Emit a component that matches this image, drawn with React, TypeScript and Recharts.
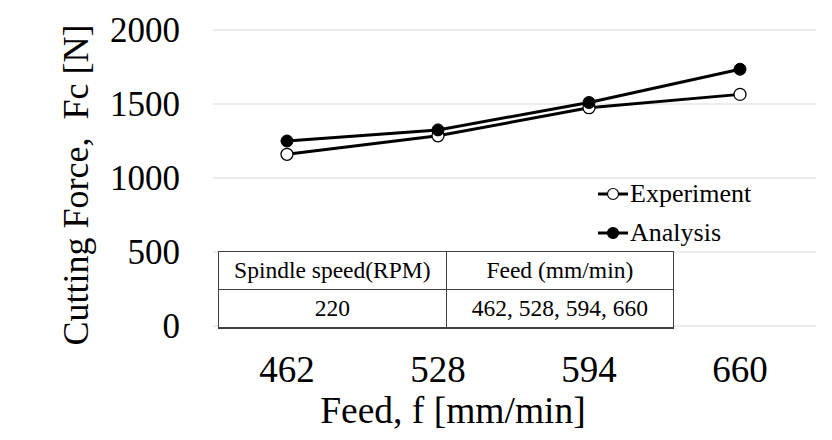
import React from "react";
import { LineChart, Line, XAxis, YAxis, CartesianGrid } from "recharts";

const feeds = ["462", "528", "594", "660"];
const experiment = [1160, 1285, 1475, 1565];
const analysis = [1250, 1325, 1510, 1735];
const yTicks = [0, 500, 1000, 1500, 2000];

const seriesNames = ["Experiment", "Analysis"];
const tableHead = ["Spindle speed(RPM)", "Feed (mm/min)"];
const tableRow = ["220", "462, 528, 594, 660"];

const data = feeds.map((f, i) => ({ feed: f, experiment: experiment[i], analysis: analysis[i] }));

const SERIF = '"Liberation Serif", "DejaVu Serif", serif';

function YTick({ y, payload }: any) {
  return (
    <text x={180} y={y + 12} textAnchor="end" fontSize={35} fontFamily={SERIF} fill="#000">
      {payload.value}
    </text>
  );
}

function XTick({ x, payload }: any) {
  return (
    <text x={x} y={382} textAnchor="middle" fontSize={37} fontFamily={SERIF} fill="#000">
      {payload.value}
    </text>
  );
}

const cell: React.CSSProperties = {
  border: "1.5px solid #404040",
  textAlign: "center",
  padding: 0,
  height: 37,
};

export default function App() {
  return (
    <div style={{ position: "absolute", left: 0, top: 0, width: 832, height: 440, background: "#fff" }}>
      <LineChart width={832} height={440} data={data} margin={{ top: 30, right: 16, left: 0, bottom: 0 }}>
        <CartesianGrid vertical={false} stroke="#d9d9d9" strokeWidth={1.2} />
        <XAxis
          dataKey="feed"
          height={114}
          axisLine={false}
          tickLine={false}
          padding={{ left: 74, right: 76 }}
          tick={<XTick />}
          label={{
            content: () => (
              <text x={453} y={423} textAnchor="middle" fontSize={37.5} fontFamily={SERIF} fill="#000">
                Feed, f [mm/min]
              </text>
            ),
          }}
        />
        <YAxis
          width={213}
          domain={[0, 2000]}
          ticks={yTicks}
          axisLine={false}
          tickLine={false}
          tick={<YTick />}
          label={{
            content: () => (
              <text
                x={88}
                y={185}
                transform="rotate(-90 88 185)"
                textAnchor="middle"
                fontSize={36}
                fontFamily={SERIF}
                fill="#000"
                style={{ whiteSpace: "pre" }}
              >
                Cutting Force,  Fc [N]
              </text>
            ),
          }}
        />
        <Line
          dataKey="experiment"
          name={seriesNames[0]}
          stroke="#000"
          strokeWidth={3}
          dot={{ r: 6, fill: "#fff", stroke: "#000", strokeWidth: 1.3 }}
          isAnimationActive={false}
        />
        <Line
          dataKey="analysis"
          name={seriesNames[1]}
          stroke="#000"
          strokeWidth={3}
          dot={{ r: 6, fill: "#000", stroke: "#000", strokeWidth: 1 }}
          isAnimationActive={false}
        />
      </LineChart>
      <div
        style={{
          position: "absolute",
          left: 598,
          top: 174,
          fontFamily: SERIF,
          fontSize: 26,
          color: "#000",
        }}
      >
        {seriesNames.map((name, i) => (
          <div key={name} style={{ display: "flex", alignItems: "center", height: 39 }}>
            <svg width={31} height={20} style={{ marginRight: 1 }}>
              <line x1={0} y1={10} x2={30} y2={10} stroke="#000" strokeWidth={3} />
              <circle cx={15} cy={10} r={5.5} fill={i === 0 ? "#fff" : "#000"} stroke="#000" strokeWidth={1.2} />
            </svg>
            <span>{name}</span>
          </div>
        ))}
      </div>
      <table
        style={{
          position: "absolute",
          left: 218,
          top: 251,
          width: 456,
          borderCollapse: "collapse",
          background: "#fff",
          fontFamily: SERIF,
          fontSize: 23.5,
          color: "#000",
        }}
      >
        <tbody>
          <tr>
            {tableHead.map((t) => (
              <td key={t} style={{ ...cell, width: 228 }}>
                {t}
              </td>
            ))}
          </tr>
          <tr>
            {tableRow.map((t) => (
              <td key={t} style={{ ...cell, borderBottomWidth: 2 }}>
                {t}
              </td>
            ))}
          </tr>
        </tbody>
      </table>
    </div>
  );
}
